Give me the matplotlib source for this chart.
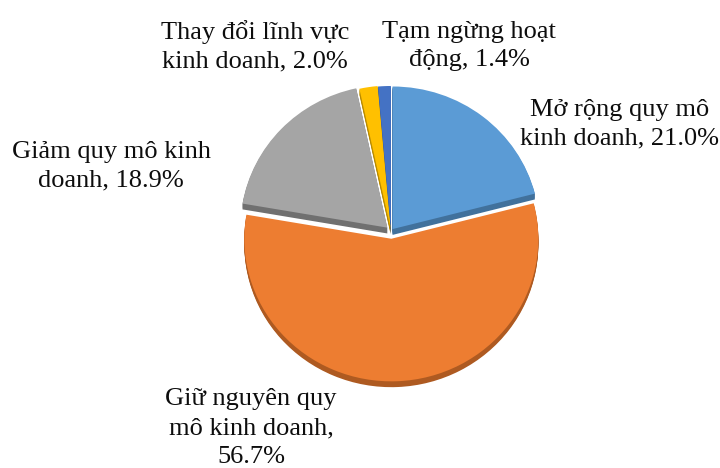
import matplotlib
matplotlib.use("Agg")
import matplotlib.pyplot as plt

# Business plans of surveyed firms (share, %)
names = ["Mở rộng quy mô\nkinh doanh", "Giữ nguyên quy\nmô kinh doanh",
         "Giảm quy mô kinh\ndoanh", "Thay đổi lĩnh vực\nkinh doanh",
         "Tạm ngừng hoạt\nđộng"]
seps = [", ", ",\n", ", ", ", ", ", "]
shares = [21.0, 56.7, 18.9, 2.0, 1.4]

top_colors = ["#5B9BD5", "#ED7D31", "#A5A5A5", "#FFC000", "#4472C4"]
side_colors = ["#41719C", "#AE5A21", "#707070", "#B88A00", "#2F528F"]
explode = [2.5, 8, 5, 3, 2.5]   # offsets in pixels

# label centres, pixel coords (y up)
label_xy = [(620, 344), (251, 40), (111, 302), (255, 422), (469, 422)]

W, H = 720, 468
TILT = 0.97   # vertical squash of the pie, fakes the 3D viewing angle

fig = plt.figure(figsize=(W / 100, H / 100), dpi=100)
pie_ax = fig.add_axes([0, 0, 1, 1])
txt_ax = fig.add_axes([0, 0, 1, 1])

cx, cy, R, depth = 391, (H - 231) / TILT, 147, 6
# extruded side of the pie, stacked a pixel at a time
for d in range(depth, 0, -1):
    pie_ax.pie(shares, explode=explode, colors=side_colors, startangle=90,
               counterclock=False, radius=R, center=(cx, cy - d),
               wedgeprops=dict(linewidth=0))
pie_ax.pie(shares, explode=explode, colors=top_colors, startangle=90,
           counterclock=False, radius=R, center=(cx, cy),
           wedgeprops=dict(linewidth=0))
pie_ax.set_xlim(0, W)
pie_ax.set_ylim(0, H / TILT)
pie_ax.set_aspect("auto")
pie_ax.axis("off")

for name, sep, v, (x, y) in zip(names, seps, shares, label_xy):
    txt_ax.text(x, y, f"{name}{sep}{v:.1f}%", ha="center", va="center",
                fontsize=19, color="#0d0d0d", linespacing=1.4,
                family=["Liberation Serif", "DejaVu Serif"])
txt_ax.set_xlim(0, W)
txt_ax.set_ylim(0, H)
txt_ax.axis("off")

fig.savefig("out.png", dpi=100, facecolor="white")
